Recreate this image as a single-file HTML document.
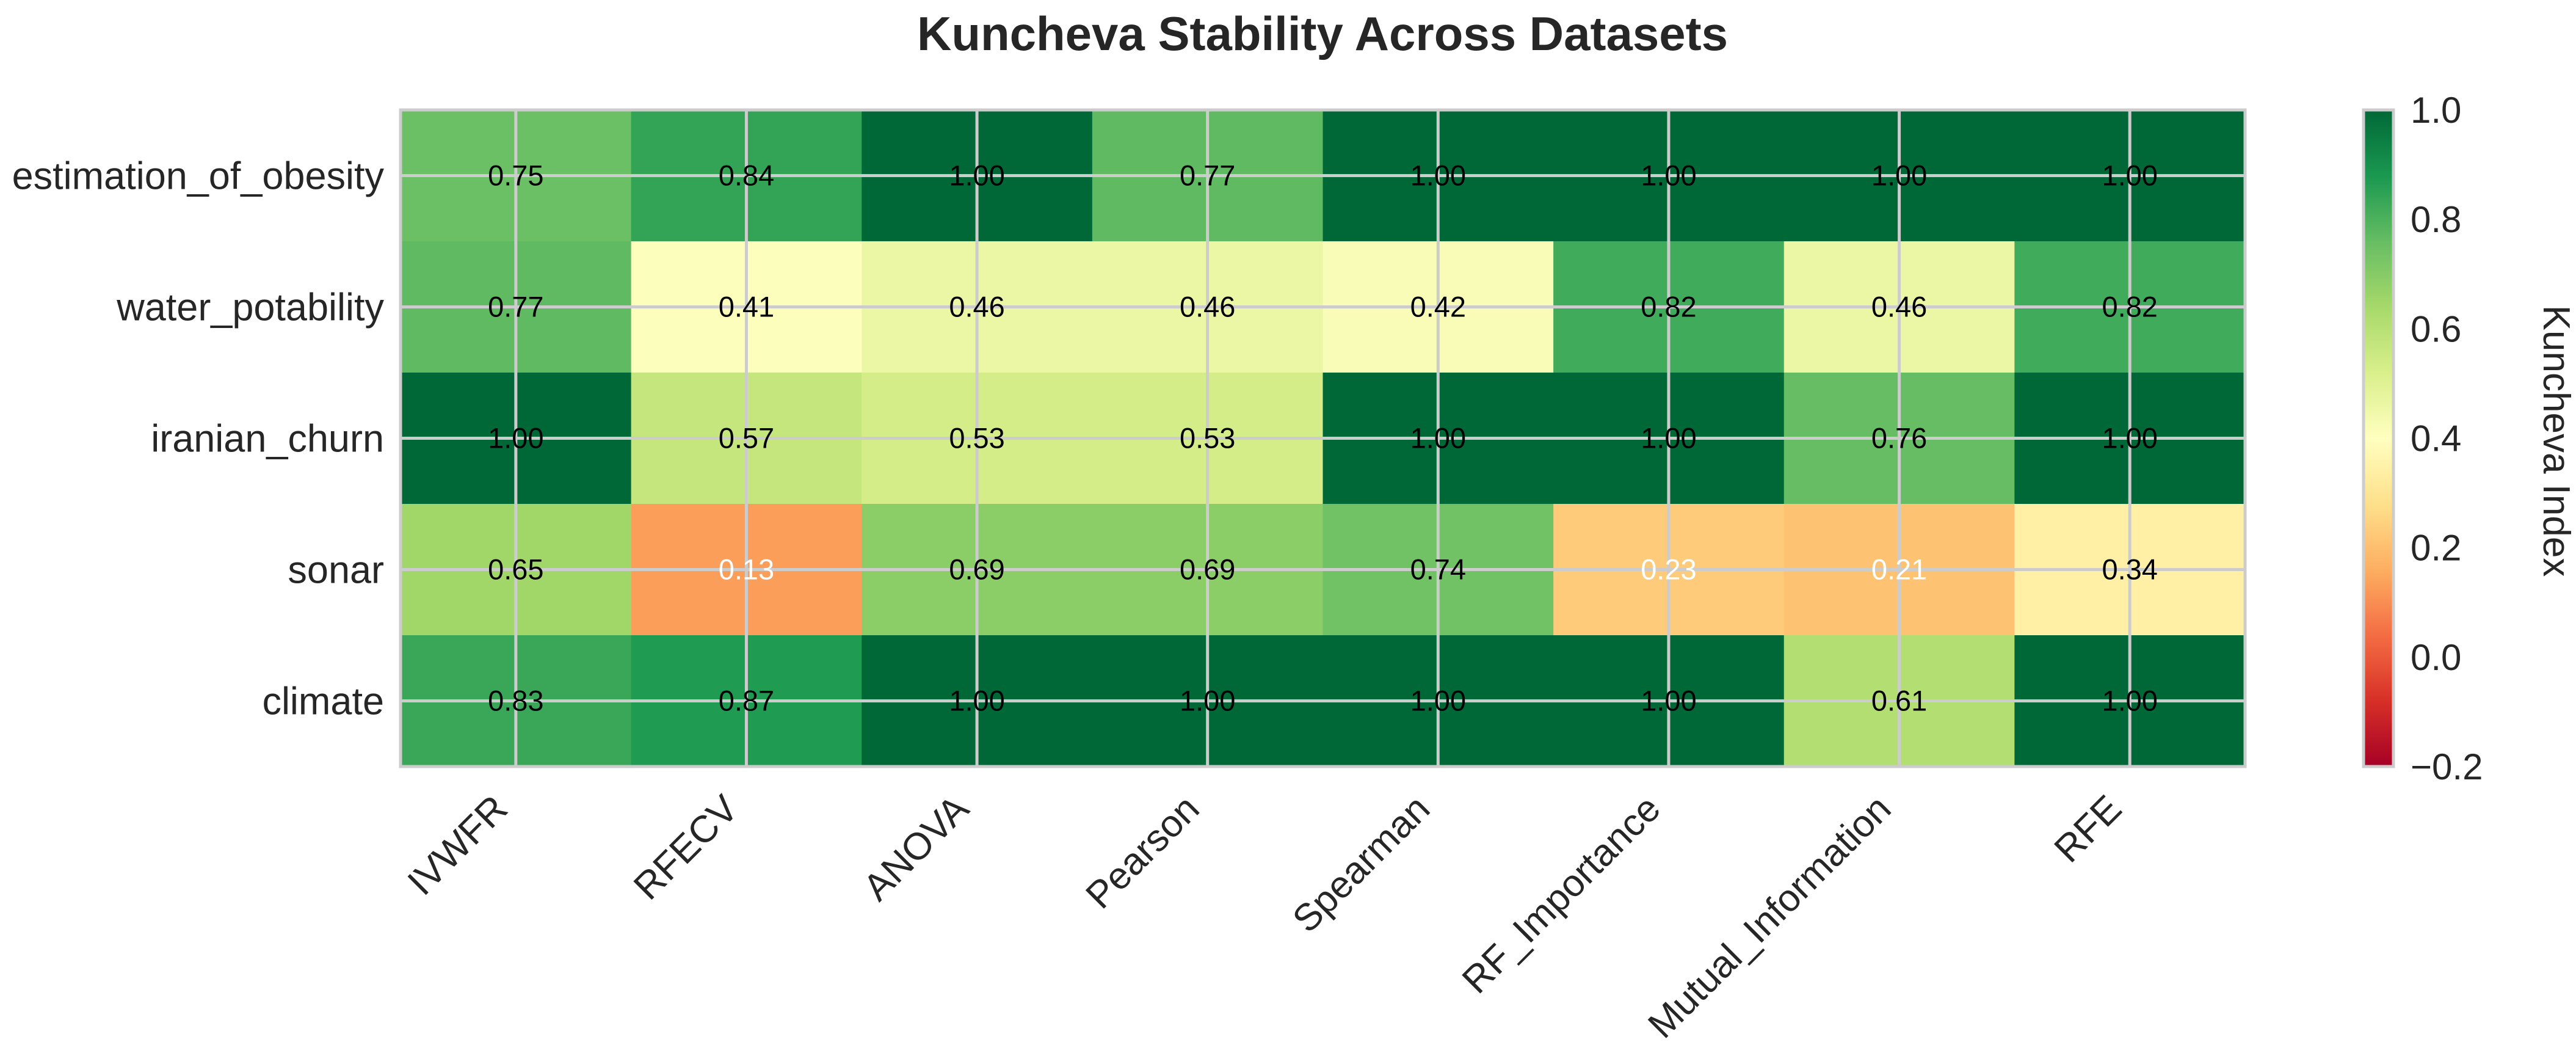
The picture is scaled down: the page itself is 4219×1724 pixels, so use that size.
<!DOCTYPE html>
<html><head><meta charset="utf-8"><style>
html,body{margin:0;padding:0;background:#fff;}
svg{display:block;font-family:"Liberation Sans",Arial,sans-serif;}
</style></head><body>
<svg id="chart" width="4219" height="1724" viewBox="0 0 4219 1724" xmlns="http://www.w3.org/2000/svg">
<defs><linearGradient id="cbgrad" x1="0" y1="1" x2="0" y2="0"></linearGradient></defs>
<text x="2166" y="82" text-anchor="middle" font-size="78" font-weight="bold" fill="#262626">Kuncheva Stability Across Datasets</text>
<g id="cells"></g><g id="grid"></g><g id="annots"></g><g id="ylabels"></g><g id="xlabels"></g>
<rect x="656" y="180" width="3021" height="1075" fill="none" stroke="#cccccc" stroke-width="5"/>
<rect x="3871" y="180" width="49" height="1075" fill="url(#cbgrad)" stroke="#cccccc" stroke-width="5"/>
<g id="cbticks"></g>
<text transform="translate(4166,722) rotate(90)" text-anchor="middle" font-size="62" fill="#262626">Kuncheva Index</text>
</svg>
<script>
const methods = ["IVWFR","RFECV","ANOVA","Pearson","Spearman","RF_Importance","Mutual_Information","RFE"];
const datasets = ["estimation_of_obesity","water_potability","iranian_churn","sonar","climate"];
const rowObesity = [0.75,0.84,1.00,0.77,1.00,1.00,1.00,1.00];
const rowWater = [0.77,0.41,0.46,0.46,0.42,0.82,0.46,0.82];
const rowChurn = [1.00,0.57,0.53,0.53,1.00,1.00,0.76,1.00];
const rowSonar = [0.65,0.13,0.69,0.69,0.74,0.23,0.21,0.34];
const rowClimate = [0.83,0.87,1.00,1.00,1.00,1.00,0.61,1.00];
const cbTicks = [-0.2,0.0,0.2,0.4,0.6,0.8,1.0];
const vmin = -0.2, vmax = 1.0;

const NS="http://www.w3.org/2000/svg";
const X0=656,X1=3677,Y0=180,Y1=1255;
const cw=(X1-X0)/methods.length, rh=(Y1-Y0)/datasets.length;
const xc=i=>X0+(i+0.5)*cw, yc=j=>Y0+(j+0.5)*rh;
const cbY=v=>Y1-(v-vmin)/(vmax-vmin)*(Y1-Y0);
const anchors=["#a50026","#d73027","#f46d43","#fdae61","#fee08b","#ffffbf","#d9ef8b","#a6d96a","#66bd63","#1a9850","#006837"];
function hx(h){return [1,3,5].map(k=>parseInt(h.substr(k,2),16));}
function cmap(v){let t=Math.max(0,Math.min(1,(v-vmin)/(vmax-vmin)))*10;let i=Math.min(9,Math.floor(t)),f=t-i;
 const a=hx(anchors[i]),b=hx(anchors[i+1]);return "rgb("+a.map((c,k)=>Math.round(c+(b[k]-c)*f)).join(",")+")";}
function mk(tag,attrs,parent){const e=document.createElementNS(NS,tag);for(const k in attrs)e.setAttribute(k,attrs[k]);parent.appendChild(e);return e;}
const rows=[rowObesity,rowWater,rowChurn,rowSonar,rowClimate];
const gC=document.getElementById("cells"),gG=document.getElementById("grid"),gA=document.getElementById("annots"),gY=document.getElementById("ylabels"),gX=document.getElementById("xlabels"),gT=document.getElementById("cbticks");
rows.forEach((row,j)=>{row.forEach((v,i)=>{
 const r=mk("rect",{x:X0+i*cw,y:Y0+j*rh,width:cw+0.5,height:rh+0.5,fill:cmap(v)},gC);
 
 
 const t=mk("text",{x:xc(i),y:yc(j)+16,"text-anchor":"middle","font-size":47,fill:v<0.3?"#ffffff":"#000000"},gA);
 t.textContent=v.toFixed(2);
 
 
});});
methods.forEach((m,i)=>{
 const l=mk("line",{x1:xc(i),x2:xc(i),y1:Y0,y2:Y1,stroke:"#cccccc","stroke-width":5},gG);
 
 
 const ax=xc(i)-10, ay=1328;
 const t=mk("text",{x:ax,y:ay,"text-anchor":"end","font-size":62,fill:"#262626",transform:`rotate(-45 ${ax} ${ay})`},gX);
 t.textContent=m;
 
 
});
datasets.forEach((d,j)=>{
 const l=mk("line",{x1:X0,x2:X1,y1:yc(j),y2:yc(j),stroke:"#cccccc","stroke-width":5},gG);
 
 
 const t=mk("text",{x:629,y:yc(j)+22,"text-anchor":"end","font-size":63,fill:"#262626"},gY);
 t.textContent=d;
 
 
});
const grad=document.getElementById("cbgrad");
for(let k=0;k<=40;k++){const v=vmin+(vmax-vmin)*k/40;mk("stop",{offset:(k/40),"stop-color":cmap(v)},grad);}
cbTicks.forEach(v=>{
 const t=mk("text",{x:3948,y:cbY(v)+21,"font-size":60,fill:"#262626"},gT);
 t.textContent=(v<0?"\u2212":"")+Math.abs(v).toFixed(1);
 
 
});
</script>
</body></html>
